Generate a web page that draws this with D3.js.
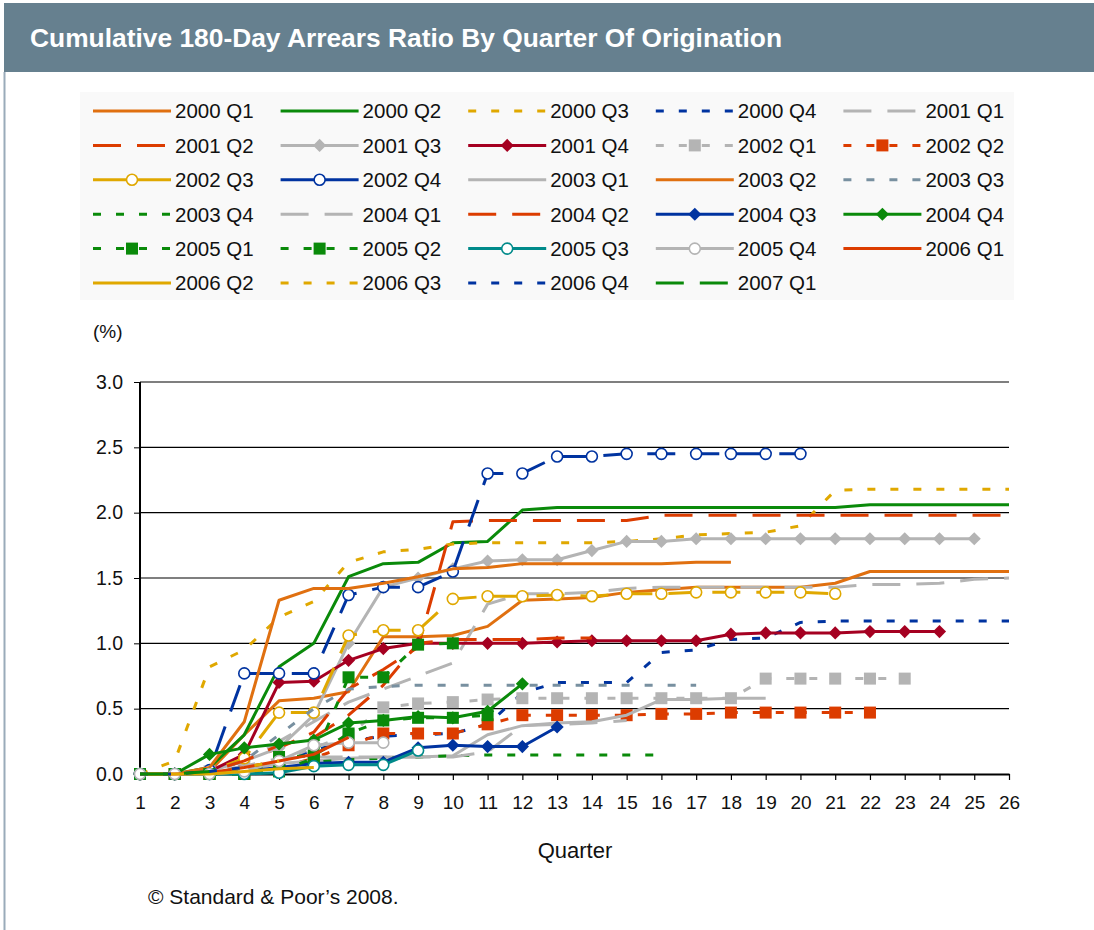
<!DOCTYPE html>
<html>
<head>
<meta charset="utf-8">
<script src="https://cdn.jsdelivr.net/npm/d3@7"></script>
<style>
  body { margin: 0; background: #fff; }
  svg { font-family: Arial, "Liberation Sans", sans-serif; }
</style>
</head>
<body>
<svg width="1094" height="930"></svg>
<script>
// vintages, in legend order
const vintages = ['2000 Q1','2000 Q2','2000 Q3','2000 Q4','2001 Q1','2001 Q2','2001 Q3','2001 Q4',
  '2002 Q1','2002 Q2','2002 Q3','2002 Q4','2003 Q1','2003 Q2','2003 Q3','2003 Q4','2004 Q1','2004 Q2',
  '2004 Q3','2004 Q4','2005 Q1','2005 Q2','2005 Q3','2005 Q4','2006 Q1','2006 Q2','2006 Q3','2006 Q4','2007 Q1'];

const quarterTicks = [1,2,3,4,5,6,7,8,9,10,11,12,13,14,15,16,17,18,19,20,21,22,23,24,25,26];
const ratioTicks = [0, 0.5, 1.0, 1.5, 2.0, 2.5, 3.0];

// cumulative 180-day arrears ratio (%), quarter 1, 2, 3 ...
const v2000Q1 = [0,0,0.02,0.3,0.56,0.58,0.63,1.05,1.05,1.06,1.13,1.33,1.34,1.35,1.39,1.41,1.43,1.43,1.43,1.43,1.46,1.55,1.55,1.55,1.55,1.55];
const v2000Q2 = [0,0,0.05,0.3,0.82,1.0,1.51,1.61,1.62,1.77,1.78,2.02,2.04,2.04,2.04,2.04,2.04,2.04,2.04,2.04,2.04,2.06,2.06,2.06,2.06,2.06];
const v2000Q3 = [0,0.1,0.82,0.95,1.2,1.32,1.62,1.7,1.72,1.76,1.77,1.77,1.77,1.77,1.78,1.8,1.83,1.84,1.85,1.9,2.17,2.18,2.18,2.18,2.18,2.18];
const v2000Q4 = [0,0,0.01,0.04,0.1,0.18,0.25,0.29,0.3,0.31,0.38,0.62,0.7,0.7,0.7,0.93,0.95,1.03,1.04,1.16,1.17,1.17,1.17,1.17,1.17,1.17];
const v2001Q1 = [0,0,0.02,0.1,0.25,0.4,0.55,0.65,0.75,0.85,1.3,1.38,1.38,1.39,1.42,1.43,1.43,1.43,1.43,1.43,1.43,1.45,1.45,1.46,1.49,1.5];
const v2001Q2 = [0,0,0.02,0.1,0.2,0.32,0.65,0.8,0.97,1.93,1.94,1.94,1.94,1.94,1.94,1.98,1.98,1.98,1.98,1.98,1.98,1.98,1.98,1.98,1.98,1.98];
const v2001Q3 = [0,0,0.02,0.1,0.2,0.45,1.0,1.43,1.5,1.57,1.63,1.64,1.64,1.71,1.78,1.78,1.8,1.8,1.8,1.8,1.8,1.8,1.8,1.8,1.8];
const v2001Q4 = [0,0,0.02,0.15,0.7,0.71,0.87,0.96,1.0,1.0,1.0,1.0,1.01,1.02,1.02,1.02,1.02,1.07,1.08,1.08,1.08,1.09,1.09,1.09];
const v2002Q1 = [0,0,0.02,0.05,0.1,0.2,0.3,0.51,0.54,0.55,0.57,0.58,0.58,0.58,0.58,0.58,0.58,0.58,0.73,0.73,0.73,0.73,0.73];
const v2002Q2 = [0,0,0,0.02,0.05,0.12,0.22,0.31,0.31,0.31,0.38,0.45,0.45,0.45,0.45,0.46,0.46,0.47,0.47,0.47,0.47,0.47];
const v2002Q3 = [0,0,0.02,0.12,0.47,0.47,1.06,1.1,1.1,1.34,1.36,1.36,1.37,1.36,1.38,1.38,1.39,1.39,1.39,1.39,1.38];
const v2002Q4 = [0,0,0.03,0.77,0.77,0.77,1.37,1.43,1.43,1.55,2.3,2.3,2.43,2.43,2.45,2.45,2.45,2.45,2.45,2.45];
const v2003Q1 = [0,0,0.01,0.03,0.08,0.1,0.12,0.13,0.13,0.14,0.3,0.37,0.39,0.4,0.45,0.57,0.57,0.58,0.58];
const v2003Q2 = [0,0,0.05,0.4,1.33,1.42,1.42,1.46,1.51,1.57,1.58,1.61,1.61,1.61,1.61,1.61,1.62,1.62];
const v2003Q3 = [0,0,0.02,0.1,0.3,0.5,0.65,0.67,0.68,0.68,0.68,0.68,0.68,0.68,0.68,0.68,0.68];
const v2003Q4 = [0,0,0.01,0.03,0.06,0.09,0.11,0.12,0.13,0.14,0.145,0.145,0.145,0.145,0.145,0.145];
const v2004Q1 = [0,0,0.02,0.06,0.12,0.13,0.13,0.13,0.13,0.13,0.17,0.37,0.38,0.39,0.41];
const v2004Q2 = [0,0,0.02,0.1,0.22,0.28,0.45,0.68,1.0,1.03,1.03,1.03,1.04,1.04];
const v2004Q3 = [0,0,0,0.02,0.05,0.08,0.09,0.09,0.2,0.22,0.21,0.21,0.36];
const v2004Q4 = [0,0,0.15,0.2,0.23,0.26,0.39,0.41,0.44,0.43,0.48,0.69];
const v2005Q1 = [0,0,0,0,0.13,0.14,0.31,0.41,0.43,0.43,0.45];
const v2005Q2 = [0,0,0,0,0.02,0.12,0.74,0.74,0.99,1.0];
const v2005Q3 = [0,0,0,0,0.01,0.06,0.07,0.07,0.18];
const v2005Q4 = [0,0,0,0.02,0.1,0.22,0.24,0.24];
const v2006Q1 = [0,0,0.01,0.05,0.1,0.15,0.28];
const v2006Q2 = [0,0,0,0.02,0.04,0.05];
const v2006Q3 = [0,0,0.01,0.05,0.1];
const v2006Q4 = [0,0,0.02,0.05];
const v2007Q1 = [0,0,0.02];

const values = [v2000Q1,v2000Q2,v2000Q3,v2000Q4,v2001Q1,v2001Q2,v2001Q3,v2001Q4,v2002Q1,v2002Q2,
  v2002Q3,v2002Q4,v2003Q1,v2003Q2,v2003Q3,v2003Q4,v2004Q1,v2004Q2,v2004Q3,v2004Q4,v2005Q1,v2005Q2,
  v2005Q3,v2005Q4,v2006Q1,v2006Q2,v2006Q3,v2006Q4,v2007Q1];

// styles
const orange = '#E07010', green = '#0A8A0A', gold = '#E0A800', blue = '#0033A0', grey = '#B4B4B4',
      red = '#DC3C00', crimson = '#A50021', slate = '#7890A0', teal = '#008A8A';
const colors = [orange, green, gold, blue, grey, red, grey, crimson, grey, red, gold, blue, grey, orange,
  slate, green, grey, red, blue, green, green, green, teal, grey, red, gold, gold, blue, green];
const dashes = ['solid','solid','dot','dot','long','long','solid','solid','dot','dot','solid','solid',
  'solid','solid','dot','dot','long','long','solid','solid','dot','dot','solid','solid','solid','solid','dot','dot','long'];
const markers = [null,null,null,null,null,null,'diamond','diamond','square','square','circle','circle',
  null,null,null,null,null,null,'diamond','diamond','square','square','circle','circle',null,null,null,null,null];
const dashArray = { solid: null, dot: '8,15', long: '28,16' };

const series = vintages.map((name, i) => ({
  name, color: colors[i], dash: dashes[i], marker: markers[i],
  // the two 2002 open-circle series come out broken on the plot
  plotDash: (i === 10 || i === 11) ? '28,16' : dashArray[dashes[i]],
  points: values[i].map((v, k) => ({ q: k + 1, v }))
}));

const svg = d3.select('svg');
const width = +svg.attr('width');
const height = +svg.attr('height');

// header
svg.append('rect').attr('x', 4).attr('y', 3).attr('width', width - 4).attr('height', 69).attr('fill', '#66808F');
svg.append('line').attr('x1', 4.5).attr('x2', 4.5).attr('y1', 72).attr('y2', height)
  .attr('stroke', '#9AABBA').attr('stroke-width', 2);
svg.append('text')
  .attr('x', 30).attr('y', 47)
  .attr('fill', '#fff').attr('font-size', 25).attr('font-weight', 'bold')
  .attr('textLength', 752).attr('lengthAdjust', 'spacingAndGlyphs')
  .text('Cumulative 180-Day Arrears Ratio By Quarter Of Origination');

const drawMarker = (g, type, color, x, y) => {
  if (type === 'diamond') {
    g.append('path').attr('d', d3.symbol(d3.symbolDiamond2, 110)())
      .attr('transform', `translate(${x},${y})`).attr('fill', color);
  } else if (type === 'square') {
    g.append('rect').attr('x', x - 6).attr('y', y - 6).attr('width', 12).attr('height', 12).attr('fill', color);
  } else if (type === 'circle') {
    g.append('circle').attr('cx', x).attr('cy', y).attr('r', 5.5)
      .attr('fill', '#fff').attr('stroke', color).attr('stroke-width', 1.6);
  }
};

// legend
const legend = svg.append('g');
legend.append('rect').attr('x', 80).attr('y', 92).attr('width', 934).attr('height', 208).attr('fill', '#F9F9F9');
series.forEach((s, i) => {
  const col = i % 5, row = Math.floor(i / 5);
  const x = 93 + col * 187.6, y = 111 + row * 34.4;
  const item = legend.append('g');
  item.append('line').attr('x1', x).attr('x2', x + 78).attr('y1', y).attr('y2', y)
    .attr('stroke', s.color).attr('stroke-width', 3)
    .attr('stroke-dasharray', dashArray[s.dash]);
  if (s.marker) drawMarker(item, s.marker, s.color, x + 39, y);
  item.append('text').attr('x', x + 82).attr('y', y).attr('dy', '0.36em')
    .attr('font-size', 20.5).attr('fill', '#111').text(s.name);
});

// plot
const xScale = d3.scaleLinear().domain([1, 26]).range([140, 1009]);
const yScale = d3.scaleLinear().domain([0, 3]).range([774, 382]);

svg.append('text').attr('x', 93).attr('y', 331).attr('dy', '0.36em')
  .attr('font-size', 19).attr('fill', '#111').text('(%)');

const yAxisG = svg.append('g').attr('transform', 'translate(140,0)')
  .call(d3.axisLeft(yScale).tickValues(ratioTicks).tickFormat(d3.format('.1f'))
    .tickSize(6).tickPadding(11));
yAxisG.selectAll('.tick text').attr('font-size', 19.5).attr('fill', '#111');
yAxisG.selectAll('.tick line').attr('stroke', '#000');
yAxisG.select('.domain').remove();

svg.append('g').selectAll('line').data(ratioTicks.filter(d => d > 0)).join('line')
  .attr('x1', 140).attr('x2', 1009)
  .attr('y1', d => yScale(d)).attr('y2', d => yScale(d))
  .attr('stroke', '#000').attr('stroke-width', 1.2);
svg.append('line').attr('x1', 140).attr('x2', 140).attr('y1', 382).attr('y2', 774)
  .attr('stroke', '#000').attr('stroke-width', 2);

const xAxisG = svg.append('g').attr('transform', 'translate(0,774)')
  .call(d3.axisBottom(xScale).tickValues(quarterTicks).tickFormat(d3.format('d'))
    .tickSizeInner(6).tickSizeOuter(0).tickPadding(16));
xAxisG.selectAll('.tick text').attr('font-size', 19).attr('fill', '#111');
xAxisG.selectAll('.tick line').attr('stroke', '#000').attr('stroke-width', 1.2);
xAxisG.select('.domain').attr('stroke', '#000').attr('stroke-width', 2);

svg.append('text').attr('x', 575).attr('y', 850).attr('dy', '0.36em').attr('text-anchor', 'middle')
  .attr('font-size', 22).attr('fill', '#111').text('Quarter');

const line = d3.line().x(d => xScale(d.q)).y(d => yScale(d.v));
const plot = svg.append('g');
series.forEach(s => {
  const g = plot.append('g');
  g.append('path').datum(s.points).attr('d', line)
    .attr('fill', 'none').attr('stroke', s.color).attr('stroke-width', 3)
    .attr('stroke-linejoin', 'round')
    .attr('stroke-dasharray', s.plotDash);
  if (s.marker) s.points.forEach(p => drawMarker(g, s.marker, s.color, xScale(p.q), yScale(p.v)));
});

svg.append('text').attr('x', 148).attr('y', 896).attr('dy', '0.36em')
  .attr('font-size', 21).attr('fill', '#111').text('\u00A9 Standard & Poor\u2019s 2008.');
</script>
</body>
</html>
